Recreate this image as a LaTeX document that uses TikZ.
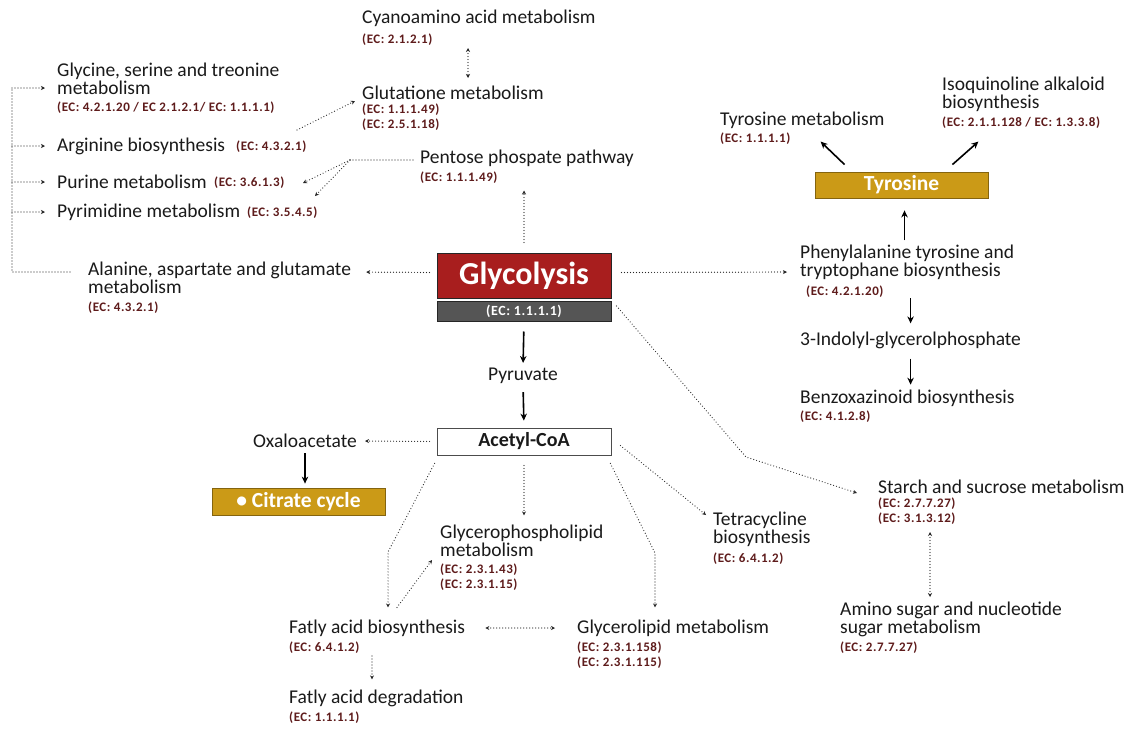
\documentclass[tikz,border=0pt]{standalone}
\usepackage{fontspec}
\setmainfont{Carlito}
\newfontfamily\ecfont[LetterSpace=4]{Carlito}
\usetikzlibrary{arrows.meta,calc}
\definecolor{ecred}{HTML}{5E1B1B}
\definecolor{glyred}{HTML}{A81E1E}
\definecolor{glygray}{HTML}{555555}
\definecolor{gold}{HTML}{CB9A17}
\definecolor{txt}{HTML}{1A1A1A}
\begin{document}
\begin{tikzpicture}[x=1pt,y=-1pt,
  lbl/.style={inner sep=0,anchor=west,font=\fontsize{19.5}{17.5}\selectfont,text=txt},
  mlbl/.style={inner sep=0,anchor=north west,align=left,font=\fontsize{19.5}{17.5}\selectfont,text=txt},
  ec/.style={inner sep=0,anchor=west,align=left,font=\ecfont\bfseries\fontsize{13}{15}\selectfont,text=ecred},
  ec2/.style={ec,anchor=north west},
  dotl/.style={draw=black!85,line width=1.2pt,line cap=round,dash pattern=on 0pt off 3pt},
  dotarr/.style={dotl,-{Stealth[length=4pt,width=4pt]}},
  dotboth/.style={dotl,{Stealth[length=4pt,width=4pt]}-{Stealth[length=4pt,width=4pt]}},
  solarr/.style={draw=black,line width=1.6pt,-{Stealth[length=7pt,width=6.5pt]}},
  goldbox/.style={draw=gold!65!black,line width=0.8pt,fill=gold,text=white,inner sep=0,minimum height=26,font=\bfseries\fontsize{21.5}{21.5}\selectfont}
]
\useasboundingbox[fill=white] (0,0) rectangle (1132,729);

% ---- top left column
\node[mlbl] (gly) at (57,63) {Glycine, serine and treonine\\metabolism};
\node[ec] (glyec) at (57,108) {(EC: 4.2.1.20 / EC 2.1.2.1/ EC: 1.1.1.1)};
\node[lbl] (arg) at (57,146) {Arginine biosynthesis};
\node[ec] (argec) at (236,147) {(EC: 4.3.2.1)};
\node[lbl] (pur) at (57,182) {Purine metabolism};
\node[ec] (purec) at (214,183) {(EC: 3.6.1.3)};
\node[lbl] (pyr) at (57,212) {Pyrimidine metabolism};
\node[ec] (pyrec) at (247,213) {(EC: 3.5.4.5)};
\node[mlbl] (ala) at (88,262) {Alanine, aspartate and glutamate\\metabolism};
\node[ec] (alaec) at (88,308) {(EC: 4.3.2.1)};

% ---- top centre
\node[lbl] (cya) at (362,18) {Cyanoamino acid metabolism};
\node[ec] (cyaec) at (362,40) {(EC: 2.1.2.1)};
\node[lbl] (glu) at (362,93) {Glutatione metabolism};
\node[ec2] (gluec) at (362,104) {(EC: 1.1.1.49)\\(EC: 2.5.1.18)};
\node[lbl] (pen) at (420,158) {Pentose phospate pathway};
\node[ec] (penec) at (420,178) {(EC: 1.1.1.49)};

% ---- glycolysis
\node[draw=black!85,line width=1pt,fill=glyred,text=white,inner sep=0,minimum width=174,minimum height=45,
      font=\bfseries\fontsize{32}{32}\selectfont] (glyco) at (524,275.5) {Glycolysis};
\node[draw=black!85,line width=1pt,fill=glygray,text=white,inner sep=0,minimum width=174,minimum height=20,
      font=\ecfont\bfseries\fontsize{14}{14}\selectfont] (glycoec) at (524,311) {(EC: 1.1.1.1)};

% ---- right top
\node[lbl] (tmet) at (720,120) {Tyrosine metabolism};
\node[ec] (tmetec) at (720,139) {(EC: 1.1.1.1)};
\node[mlbl] (iso) at (942,77) {Isoquinoline alkaloid\\biosynthesis};
\node[ec] (isoec) at (942,123) {(EC: 2.1.1.128 / EC: 1.3.3.8)};
\node[goldbox,minimum width=173] (tyr) at (901.5,185) {Tyrosine};
\node[mlbl] (phe) at (800,245) {Phenylalanine tyrosine and\\tryptophane biosynthesis};
\node[ec] (pheec) at (806,292) {(EC: 4.2.1.20)};
\node[lbl] (ind) at (800,340) {3-Indolyl-glycerolphosphate};
\node[lbl] (benz) at (800,398) {Benzoxazinoid biosynthesis};
\node[ec] (benzec) at (800,417) {(EC: 4.1.2.8)};

% ---- centre
\node[lbl,anchor=center] (pyru) at (523,376) {Pyruvate};
\node[draw=black!70,line width=0.8pt,fill=white,inner sep=0,minimum width=174,minimum height=27,
      font=\bfseries\fontsize{20}{20}\selectfont,text=txt] (acetyl) at (524,441.5) {Acetyl-CoA};
\node[lbl,anchor=center] (oxa) at (305,441) {Oxaloacetate};
\node[goldbox,minimum width=173,minimum height=27] (cit) at (298.5,501.5) {\textbullet\ Citrate cycle};

% ---- lower
\node[mlbl] (tetra) at (713,512) {Tetracycline\\biosynthesis};
\node[ec] (tetraec) at (713,559) {(EC: 6.4.1.2)};
\node[lbl] (starch) at (878,487) {Starch and sucrose metabolism};
\node[ec2] (starchec) at (878,498) {(EC: 2.7.7.27)\\(EC: 3.1.3.12)};
\node[mlbl] (amino) at (840,602) {Amino sugar and nucleotide\\sugar metabolism};
\node[ec] (aminoec) at (840,648) {(EC: 2.7.7.27)};
\node[mlbl] (glyp) at (440,525) {Glycerophospholipid\\metabolism};
\node[ec2] (glypec) at (440,564) {(EC: 2.3.1.43)\\(EC: 2.3.1.15)};
\node[lbl] (fab) at (289,628) {Fatly acid biosynthesis};
\node[ec] (fabec) at (289,648) {(EC: 6.4.1.2)};
\node[lbl] (glyl) at (577,628) {Glycerolipid metabolism};
\node[ec2] (glylec) at (577,642) {(EC: 2.3.1.158)\\(EC: 2.3.1.115)};
\node[lbl] (fad) at (289,698) {Fatly acid degradation};
\node[ec] (fadec) at (289,718) {(EC: 1.1.1.1)};

% ---- coordinates for bends
\coordinate (bk) at (12,272);
\coordinate (pj) at (350,160);
\coordinate (sbend) at (746,457);
\coordinate (fb1) at (388,552);
\coordinate (gl1) at (655,553);

% ---- connectors: left bracket
\draw[dotl] ($(ala.north west)+(-18,10)$) -| ($(gly.north west)+(-45,25)$);
\draw[dotarr] ($(gly.north west)+(-45,25)$) -- ($(gly.north west)+(-12,25)$);
\draw[dotarr] (bk |- arg.west) -- ($(arg.west)+(-12,0)$);
\draw[dotarr] (bk |- pur.west) -- ($(pur.west)+(-12,0)$);
\draw[dotarr] (bk |- pyr.west) -- ($(pyr.west)+(-12,0)$);

% top
\draw[dotboth] ($(cya.west)+(106,30)$) -- ($(glu.west)+(106,-15)$);
\draw[dotarr] ($(glu.west)+(-65,37)$) -- ($(glu.west)+(-7,8)$);
\draw[dotl] ($(pen.west)+(-7,2)$) -- (pj);
\draw[dotarr] (pj) -- ($(purec.west)+(89,0)$);
\draw[dotarr] (pj) -- ($(pyrec.west)+(68,-17)$);
\draw[dotarr] ($(glyco.north)+(0,-10)$) -- ($(glyco.north)+(0,-62)$);

% glycolysis sides
\draw[dotarr,shorten <=7pt,shorten >=15pt] ($(glyco.west)+(0,-3)$) -- ($(ala.north east)+(0,10)$);
\draw[dotarr,shorten <=10pt,shorten >=13pt] ($(glyco.east)+(0,-3)$) -- ($(phe.north west)+(0,27)$);
\draw[dotarr] ($(glycoec.east)+(5,-5)$) -- (sbend) -- ($(starch.west)+(-21,6)$);

% right column
\draw[solarr] ($(tyr.south)+(3,42)$) -- ($(tyr.south)+(3,12)$);
\draw[solarr] ($(tyr.north west)+(30,-7)$) -- ($(tyr.north west)+(6,-30)$);
\draw[solarr] ($(tyr.north east)+(-36,-7)$) -- ($(tyr.north east)+(-10,-30)$);
\draw[solarr] ($(ind.north)+(0,-33)$) -- ($(ind.north)+(0,-8)$);
\draw[solarr] ($(ind.south)+(0,10)$) -- ($(ind.south)+(0,36)$);

% centre chain
\draw[solarr,shorten <=10pt,shorten >=5pt] (glycoec.south) -- (pyru.north);
\draw[solarr,shorten <=8pt,shorten >=7pt] (pyru.south) -- (acetyl.north);
\draw[dotarr,shorten <=7pt,shorten >=8pt] (acetyl.west) -- (oxa.east);
\draw[solarr,shorten <=5pt,shorten >=4pt] (oxa.south) -- (oxa.south |- cit.north);

% acetyl-CoA branches
\draw[dotarr] ($(acetyl.east)+(9,4)$) -- ($(tetra.north west)+(-7,3)$);
\draw[dotarr] ($(acetyl.south)+(0,10)$) -- ($(acetyl.south)+(0,60)$);
\draw[dotarr] ($(acetyl.south west)+(-2,8)$) -- (fb1) -- ($(fab.north west)+(99,-12)$);
\draw[dotarr] ($(fab.north west)+(108,-12)$) -- ($(glyp.north west)+(-8,35)$);
\draw[dotarr] ($(acetyl.south east)+(-1,8)$) -- (gl1) -- ($(glyl.north west)+(78,-12)$);
\draw[dotboth,shorten <=20pt,shorten >=22pt] (fab.east) -- (glyl.west);
\draw[dotarr] ($(fabec.west)+(83,8)$) -- ($(fad.north west)+(83,-10)$);

% starch - amino
\draw[dotboth] ($(starch.west)+(52,45)$) -- ($(amino.north west)+(90,-5)$);
\end{tikzpicture}
\end{document}
